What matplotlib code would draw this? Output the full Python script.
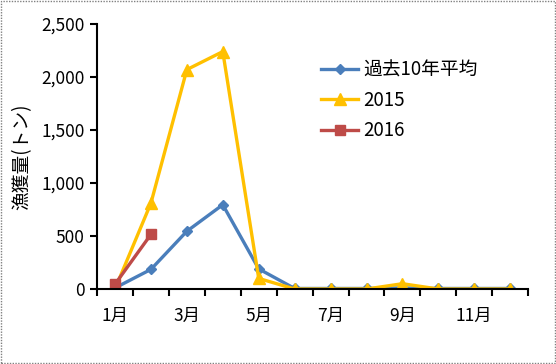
import numpy as np
import matplotlib.pyplot as plt
from matplotlib.patches import Rectangle

plt.rcParams['font.family'] = ['Noto Sans CJK JP', 'DejaVu Sans']

# データ
months = list(range(1, 13))
avg_10y = [10, 185, 545, 795, 190, 5, 5, 5, 10, 5, 5, 5]
y2015 = [0, 810, 2070, 2240, 100, 0, 0, 0, 50, 0, 0, 0]
months_2016 = [1, 2]
y2016 = [45, 515]
tick_months = [1, 3, 5, 7, 9, 11]
tick_labels = ["1月", "3月", "5月", "7月", "9月", "11月"]

fig = plt.figure(figsize=(5.56, 3.64), dpi=100)
ax = fig.add_axes([0.1745, 0.206, 0.7755, 0.728])

ax.plot(months, avg_10y, color="#4A7EBB", lw=2.4, marker="D", ms=5, label="過去10年平均")
ax.plot(months, y2015, color="#FFC000", lw=2.4, marker="^", ms=8, label="2015")
ax.plot(months_2016, y2016, color="#BE4B48", lw=2.4, marker="s", ms=6.5, label="2016")

ax.set_xlim(0.5, 12.5)
ax.set_ylim(0, 2500)
ax.set_yticks(np.arange(0, 2501, 500))
ax.set_yticklabels([f"{v:,}" for v in range(0, 2501, 500)], fontsize=12.5)
ax.set_xticks(tick_months)
ax.set_xticklabels(tick_labels, fontsize=12.5)
ax.set_xticks(np.arange(0.5, 12.6, 1), minor=True)
ax.tick_params(axis="x", which="major", length=0, pad=13)
ax.tick_params(axis="x", which="minor", length=5, width=1.5, direction="out")
ax.tick_params(axis="y", length=5, width=1.5, direction="out", pad=4)

for s in ["top", "right"]:
    ax.spines[s].set_visible(False)
ax.spines["left"].set_linewidth(1.5)
ax.spines["bottom"].set_linewidth(1.5)

ax.set_ylabel("漁獲量(トン)", fontsize=13.5, labelpad=6)

ax.legend(loc="upper left", bbox_to_anchor=(0.48, 0.93), frameon=False,
          fontsize=13.5, handlelength=2.0, labelspacing=0.5, handletextpad=0.25)

fig.patches.append(Rectangle((0.002, 0.003), 0.996, 0.994, transform=fig.transFigure,
                             fill=False, edgecolor="#808080", lw=1, ls=(0, (1, 1))))

fig.savefig("out.png", dpi=100)
